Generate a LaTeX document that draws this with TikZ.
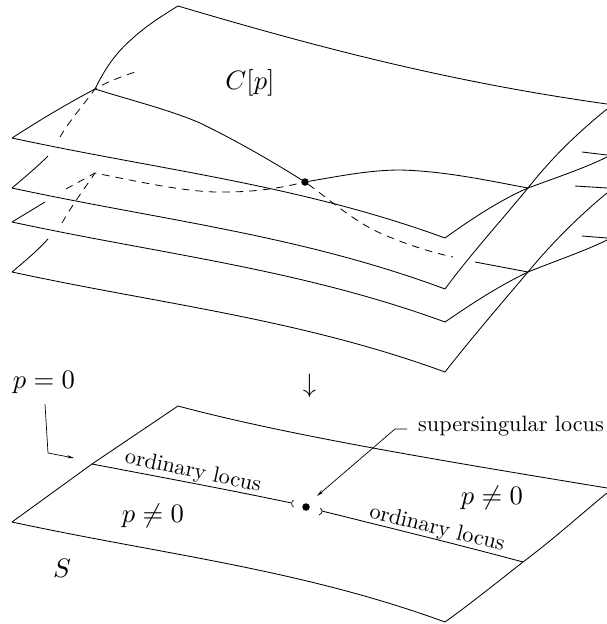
\documentclass[tikz,border=0pt]{standalone}
\usetikzlibrary{arrows.meta}
\tikzset{
  sheet/.style={line width=0.85pt,line join=miter},
  dash line/.style={line width=0.8pt,dash pattern=on 7.5pt off 6pt},
  thin line/.style={line width=0.7pt},
  tiptip/.style={-{Stealth[length=7pt,width=3.2pt]}},
  txt/.style={scale=2.22,inner sep=0pt},
  mth/.style={scale=2.66,inner sep=0pt},
  dotn/.style={circle,fill=black,inner sep=0pt,minimum size=7.5pt}
}
\begin{document}
\begin{tikzpicture}[x=1pt,y=-1pt]
\useasboundingbox (0,0) rectangle (607,624);
% top sheet
\draw[sheet] (95,89) .. controls (110,58) and (125,45) .. (133,38) .. controls (145,27) and (160,17) .. (178,6)
  .. controls (320,48) and (450,82) .. (607,104);
\draw[sheet] (95,89) .. controls (65,105) and (40,120) .. (12,138);
\draw[sheet] (12,138) .. controls (160,170) and (300,185) .. (445,238);
\draw[sheet] (445,238) .. controls (470,220) and (500,200) .. (528,188) .. controls (555,178) and (585,168) .. (607,157);
\node[dotn] (d) at (305,182) {};
\draw[sheet] (95,89) .. controls (130,100) and (170,110) .. (200,123) .. controls (235,140) and (270,160) .. (d);
\draw[sheet] (d) .. controls (340,176) and (370,170) .. (400,170) .. controls (445,171) and (490,181) .. (528,188);
% second sheet
\draw[sheet] (607,109) .. controls (575,135) and (550,160) .. (528,188) .. controls (500,222) and (470,255) .. (445,289);
\draw[sheet] (12,188) .. controls (160,220) and (300,235) .. (445,289);
\draw[sheet] (12,188) .. controls (25,177) and (37,167) .. (48,156);
\draw[sheet] (582,152) -- (607,155);
% third sheet
\draw[sheet] (12,222) .. controls (160,254) and (300,269) .. (445,322);
\draw[sheet] (12,222) -- (45,202);
\draw[sheet] (445,322) .. controls (470,305) and (495,288) .. (528,272) .. controls (555,261) and (585,251) .. (607,240);
\draw[sheet] (475,262) -- (528,272);
\draw[sheet] (575,186) -- (607,188);
% fourth sheet
\draw[sheet] (12,272) .. controls (160,304) and (300,319) .. (445,372);
\draw[sheet] (12,272) .. controls (25,261) and (37,251) .. (48,239);
\draw[sheet] (445,372) .. controls (470,340) and (500,305) .. (528,272) .. controls (550,245) and (580,215) .. (607,193);
\draw[sheet] (582,236) -- (607,238);
% dashed
\draw[dash line] (60,137) .. controls (70,120) and (85,103) .. (95,89) .. controls (105,83) and (120,77) .. (135,72);
\draw[dash line] (62,223) .. controls (72,205) and (85,188) .. (95,173);
\draw[dash line] (66,189) -- (95,173) .. controls (140,182) and (190,193) .. (225,192) .. controls (255,192) and (280,188) .. (d);
\draw[dash line] (d) .. controls (330,200) and (355,222) .. (380,233) .. controls (405,244) and (430,252) .. (453,257);
\node[mth] (cp) at (250,83) {$C[p]$};
\node[mth] (ar) at (309.5,386) {$\downarrow$};
% base
\draw[sheet] (12,522) -- (92,464) -- (178,406) .. controls (290,436) and (450,462) .. (607,488);
\draw[sheet] (12,522) .. controls (160,554) and (300,569) .. (445,622);
\draw[sheet] (445,622) .. controls (470,604) and (495,584) .. (523,562) .. controls (555,538) and (580,515) .. (607,493);
\node[dotn] (b) at (306,507) {};
\coordinate (l1) at (92,464);
\coordinate (l2) at (291.5,503);
\coordinate (r1) at (322,511);
\coordinate (r2) at (523,562);
\draw[sheet] (l1) .. controls (160,477) and (230,490) .. (l2);
\draw[sheet] (r1) .. controls (390,528) and (460,545) .. (r2);
\draw[thin line] (293.5,500) .. controls (291,502) and (291,505) .. (293.5,507);
\draw[thin line] (320,508) .. controls (323,510) and (323,513) .. (319,515);
\node[mth] (p0) at (44,383) {$p=0$};
\node[mth] (n1) at (153,516) {$p\neq 0$};
\node[mth] (n2) at (492,498) {$p\neq 0$};
\node[mth] (s) at (62,568) {$S$};
\node[txt] (ss) at (511,426) {supersingular locus};
\node[txt,rotate=-12] (o1) at (193,472) {ordinary locus};
\node[txt,rotate=-14] (o2) at (437,529) {ordinary locus};
\coordinate (a1) at (45,404);
\coordinate (a2) at (48,453);
\coordinate (a3) at (74,458);
\draw[thin line,tiptip] (a1) -- (a2) -- (a3);
\coordinate (b1) at (407,429);
\coordinate (b2) at (395,429);
\coordinate (b3) at (317,496);
\draw[thin line,tiptip] (b1) -- (b2) -- (b3);
\end{tikzpicture}
\end{document}
